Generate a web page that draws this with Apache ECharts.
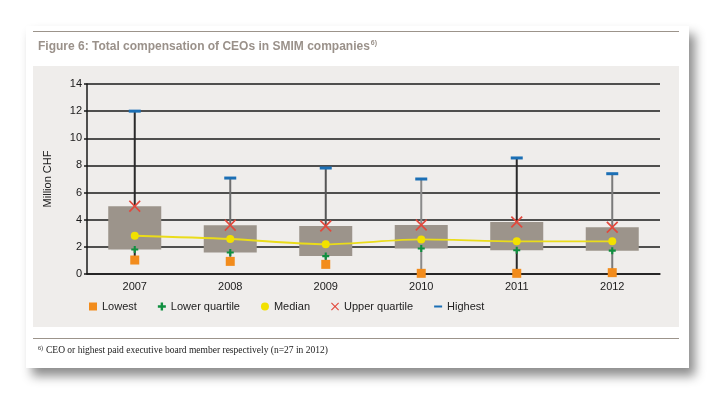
<!DOCTYPE html>
<html>
<head>
<meta charset="utf-8">
<script src="https://cdn.jsdelivr.net/npm/echarts@6/dist/echarts.min.js"></script>
<style>
html,body{margin:0;padding:0;background:#fff;width:715px;height:394px;overflow:hidden;}
#card{position:absolute;left:26px;top:26px;width:663px;height:342px;background:#fff;box-shadow:6px 8px 10px rgba(0,0,0,0.45);}
#panel{position:absolute;left:33px;top:66px;width:646px;height:261px;background:#efedeb;}
#topline{position:absolute;left:33px;top:31px;width:646px;height:1px;background:#9c948b;}
#botline{position:absolute;left:33px;top:338px;width:646px;height:1px;background:#9c948b;}
#chart{position:absolute;left:0;top:0;width:715px;height:394px;}
</style>
</head>
<body>
<div id="card"></div>
<div id="topline"></div>
<div id="panel"></div>
<div id="botline"></div>
<div id="chart"></div>
<script>
var years = ['2007', '2008', '2009', '2010', '2011', '2012'];
var lowest = [1.03, 0.93, 0.71, 0.05, 0.05, 0.10];
var lowerQuartile = [1.80, 1.58, 1.32, 1.88, 1.75, 1.72];
var median = [2.82, 2.58, 2.19, 2.55, 2.41, 2.41];
var upperQuartile = [5.00, 3.60, 3.54, 3.61, 3.83, 3.44];
var highest = [12.0, 7.07, 7.81, 7.00, 8.55, 7.39];
var yTicks = [0, 2, 4, 6, 8, 10, 12, 14];

var chart = echarts.init(document.getElementById('chart'), null, {renderer: 'canvas'});
var font = 'Liberation Sans, Arial, sans-serif';
var whiskerColors = ['#2a2a2a', '#6f6f6f', '#555', '#8a8a8a', '#2a2a2a', '#7a7a7a'];
var crossPath = 'path://M0,1L1,0L5,4L9,0L10,1L6,5L10,9L9,10L5,6L1,10L0,9L4,5Z';
var plusPath = 'path://M3.5,0L6.5,0L6.5,3.5L10,3.5L10,6.5L6.5,6.5L6.5,10L3.5,10L3.5,6.5L0,6.5L0,3.5L3.5,3.5Z';
var dashPath = 'path://M0,4L10,4L10,6.5L0,6.5Z';

var boxData = years.map(function (y, i) {
  return [i, lowest[i], lowerQuartile[i], upperQuartile[i], highest[i]];
});

chart.setOption({
  animation: false,
  backgroundColor: 'transparent',
  textStyle: {fontFamily: font},
  title: [{
    text: '{t|Figure 6: Total compensation of CEOs in SMIM companies}{s|6)}',
    left: 33, top: 35,
    textStyle: {
      rich: {
        t: {fontFamily: font, fontSize: 12, fontWeight: 'bold', color: '#9a918a'},
        s: {fontFamily: font, fontSize: 7, fontWeight: 'bold', color: '#9a918a', verticalAlign: 'top', padding: [0, 0, 6, 1]}
      }
    }
  }, {
    text: '{s|6)}{t|CEO or highest paid executive board member respectively (n=27 in 2012)}',
    left: 33, top: 340,
    textStyle: {
      fontWeight: 'normal',
      rich: {
        t: {fontFamily: 'Liberation Serif, DejaVu Serif, serif', fontSize: 9.5, fontWeight: 'normal', color: '#222'},
        s: {fontFamily: 'Liberation Serif, serif', fontSize: 6, fontWeight: 'normal', color: '#222', verticalAlign: 'top', padding: [0, 3, 3, 0]}
      }
    }
  }],
  legend: {
    left: 84, top: 296,
    itemGap: 21, itemWidth: 8, itemHeight: 8,
    textStyle: {fontFamily: font, fontSize: 11, color: '#222'},
    data: [
      {name: 'Lowest', icon: 'rect'},
      {name: 'Lower quartile', icon: plusPath},
      {name: 'Median', icon: 'circle'},
      {name: 'Upper quartile', icon: crossPath},
      {name: 'Highest', icon: dashPath}
    ]
  },
  grid: {left: 87, right: 55, top: 84, bottom: 120},
  xAxis: {
    type: 'category',
    data: years,
    boundaryGap: true,
    axisLine: {show: true, lineStyle: {color: '#1a1a1a', width: 1.5}},
    axisTick: {show: false},
    axisLabel: {color: '#1a1a1a', fontSize: 11, margin: 7, fontFamily: font}
  },
  yAxis: {
    type: 'value',
    min: yTicks[0], max: yTicks[yTicks.length - 1], interval: 2,
    name: 'Million CHF',
    nameLocation: 'middle',
    nameGap: 34,
    nameRotate: 90,
    nameTextStyle: {color: '#1a1a1a', fontSize: 11, fontFamily: font},
    axisLine: {show: true, lineStyle: {color: '#1a1a1a', width: 1.5}},
    axisTick: {show: true, length: 3, lineStyle: {color: '#1a1a1a', width: 1.5}},
    axisLabel: {color: '#1a1a1a', fontSize: 11, margin: 5, fontFamily: font},
    splitLine: {show: true, lineStyle: {color: '#1a1a1a', width: 1.5}}
  },
  series: [{
    name: 'box',
    type: 'custom',
    z: 1,
    data: boxData,
    renderItem: function (params, api) {
      var x = api.value(0);
      var lo = api.coord([x, api.value(1)]);
      var q1 = api.coord([x, api.value(2)]);
      var q3 = api.coord([x, api.value(3)]);
      var hi = api.coord([x, api.value(4)]);
      var bw = api.size([1, 0])[0] * 0.555;
      return {
        type: 'group',
        children: [{
          type: 'line',
          shape: {x1: lo[0], y1: lo[1], x2: hi[0], y2: hi[1]},
          style: {stroke: whiskerColors[params.dataIndex], lineWidth: 2}
        }, {
          type: 'rect',
          shape: {x: q3[0] - bw / 2, y: q3[1], width: bw, height: q1[1] - q3[1]},
          style: {fill: '#9c948b'}
        }]
      };
    },
    encode: {x: 0, y: [1, 2, 3, 4]},
    silent: true
  }, {
    name: 'Median',
    type: 'line',
    z: 3,
    data: median,
    smooth: 0.3,
    symbol: 'circle',
    symbolSize: 8,
    itemStyle: {color: '#f2e100', opacity: 1},
    lineStyle: {color: '#eadc1a', width: 1.8}
  }, {
    name: 'Lowest',
    type: 'scatter',
    z: 4,
    data: lowest,
    symbol: 'rect',
    symbolSize: 9,
    itemStyle: {color: '#f28c1c', opacity: 1}
  }, {
    name: 'Lower quartile',
    type: 'scatter',
    z: 4,
    data: lowerQuartile,
    symbol: plusPath,
    symbolSize: 7,
    itemStyle: {color: '#0f8f3f', opacity: 1}
  }, {
    name: 'Upper quartile',
    type: 'scatter',
    z: 4,
    data: upperQuartile,
    symbol: crossPath,
    symbolSize: 12,
    itemStyle: {color: '#e2483c', opacity: 1}
  }, {
    name: 'Highest',
    type: 'scatter',
    z: 4,
    data: highest,
    symbol: 'rect',
    symbolSize: [12, 3],
    itemStyle: {color: '#1b6fb5', opacity: 1}
  }]
});
</script>
</body>
</html>
